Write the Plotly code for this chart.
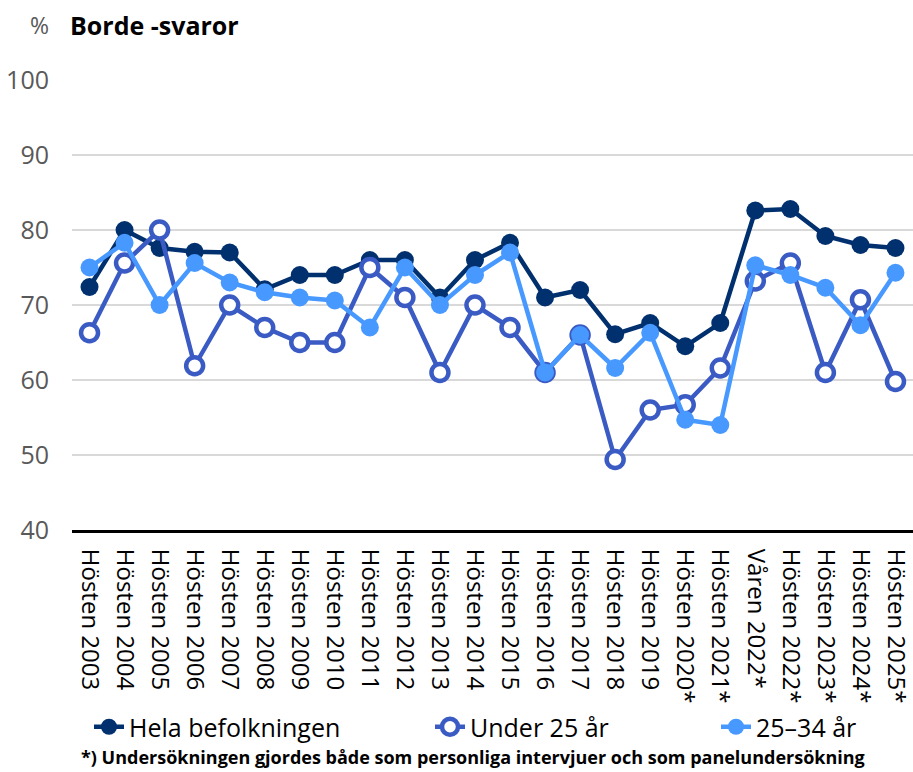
import plotly.graph_objects as go

categories = ["Hösten 2003", "Hösten 2004", "Hösten 2005", "Hösten 2006", "Hösten 2007",
              "Hösten 2008", "Hösten 2009", "Hösten 2010", "Hösten 2011", "Hösten 2012",
              "Hösten 2013", "Hösten 2014", "Hösten 2015", "Hösten 2016", "Hösten 2017",
              "Hösten 2018", "Hösten 2019", "Hösten 2020*", "Hösten 2021*", "Våren 2022*",
              "Hösten 2022*", "Hösten 2023*", "Hösten 2024*", "Hösten 2025*"]

hela = [72.4, 80.0, 77.6, 77.1, 77.0, 72.1, 74.0, 74.0, 76.0, 76.0, 71.0, 76.0, 78.3,
        71.0, 72.0, 66.1, 67.6, 64.5, 67.6, 82.6, 82.8, 79.2, 78.0, 77.6]
under25 = [66.3, 75.6, 80.0, 61.9, 70.0, 67.0, 65.0, 65.0, 75.0, 71.0, 61.0, 70.0, 67.0,
           61.0, 66.0, 49.4, 56.0, 56.7, 61.6, 73.2, 75.6, 61.0, 70.7, 59.8]
age2534 = [75.0, 78.3, 70.0, 75.6, 73.0, 71.7, 71.0, 70.6, 67.0, 75.0, 70.0, 74.0, 77.0,
           61.0, 66.0, 61.6, 66.3, 54.7, 54.0, 75.3, 74.0, 72.3, 67.3, 74.3]

series_names = ["Hela befolkningen", "Under 25 år", "25–34 år"]
y_ticks = [40, 50, 60, 70, 80, 90, 100]

c_hela = "#00306E"
c_u25 = "#3B5BC4"
c_2534 = "#4799FF"

FONT = "Open Sans"
W, H = 913, 772

fig = go.Figure()
fig.add_trace(go.Scatter(x=categories, y=hela, name=series_names[0], mode="lines+markers",
                         line=dict(color=c_hela, width=4.5),
                         marker=dict(size=18, color=c_hela), legend="legend", showlegend=True))
fig.add_trace(go.Scatter(x=categories, y=under25, name=series_names[1], mode="lines+markers",
                         line=dict(color=c_u25, width=4.5),
                         marker=dict(size=17, color="white", line=dict(color=c_u25, width=4.5)),
                         legend="legend2", showlegend=True))
fig.add_trace(go.Scatter(x=categories, y=age2534, name=series_names[2], mode="lines+markers",
                         line=dict(color=c_2534, width=4.5),
                         marker=dict(size=18, color=c_2534), legend="legend3", showlegend=True))

def leg(xpix):
    return dict(orientation="h", xref="container", yref="container",
                x=xpix / W, y=1 - 727 / H, yanchor="middle", xanchor="left",
                font=dict(family=FONT, size=25, color="#000000"),
                bgcolor="rgba(0,0,0,0)", itemwidth=30, tracegroupgap=0)

fig.update_layout(
    width=W, height=H,
    showlegend=True,
    margin=dict(l=72, r=0, t=80, b=242, autoexpand=False),
    plot_bgcolor="white", paper_bgcolor="white",
    font=dict(family=FONT, color="#000000"),
    legend=leg(89),
    legend2=leg(430),
    legend3=leg(716),
    xaxis=dict(type="category", tickangle=90, tickfont=dict(family=FONT, size=24, color="#000"),
               showline=True, linecolor="#000000", linewidth=3, showgrid=False, automargin=False,
               ticks="", ticklabelstandoff=11, range=[-0.5, len(categories) - 0.5]),
    yaxis=dict(range=[40, 100], tickvals=y_ticks, showgrid=True, gridcolor="#D9D9D9", gridwidth=2,
               zeroline=False, showline=False, automargin=False,
               tickfont=dict(family=FONT, size=25, color="#595959"),
               ticklabelstandoff=22),
)

fig.add_annotation(text="%", xref="paper", yref="paper", x=(28 - 72) / 841, y=(530 - 25) / 450,
                   xanchor="left", yanchor="middle", showarrow=False,
                   font=dict(family=FONT, size=23, color="#595959"))
fig.add_annotation(text="<b>Borde -svaror</b>", xref="paper", yref="paper", x=(68 - 72) / 841,
                   y=(530 - 25) / 450, xanchor="left", yanchor="middle", showarrow=False,
                   font=dict(family=FONT, size=25, color="#000000"))
fig.add_annotation(text="<b>*) Undersökningen gjordes både som personliga intervjuer och som panelundersökning</b>",
                   xref="paper", yref="paper", x=(79 - 72) / 841, y=(530 - 757) / 450,
                   xanchor="left", yanchor="middle", showarrow=False,
                   font=dict(family=FONT, size=18, color="#000000"))

fig.write_html("out.html", config={"displayModeBar": False},
               post_script="document.body.style.margin='0';")
